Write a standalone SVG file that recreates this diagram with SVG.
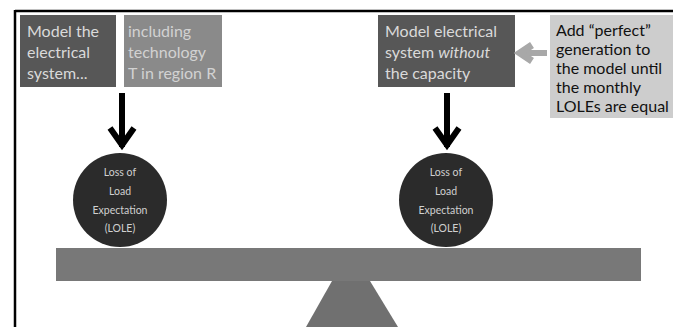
<svg xmlns="http://www.w3.org/2000/svg" width="673" height="327" viewBox="0 0 673 327">
<style>
  .t { font-family: Lato, "Open Sans", sans-serif; font-size: 16px; }
  .lt { fill: #dadada; }
  .mt { fill: #d2d2d2; }
  .dk { fill: #111111; }
  .ct { font-family: Lato, "Open Sans", sans-serif; font-size: 10.5px; fill: #d0d0d0; text-anchor: middle; }
  .arr { fill: none; stroke: #000; stroke-width: 6; }
</style>
<rect width="673" height="327" fill="#ffffff"/>
<g id="frame">
  <line x1="15" y1="11" x2="673" y2="11" stroke="#000" stroke-width="2.5"/>
  <line x1="15" y1="10" x2="15" y2="327" stroke="#000" stroke-width="2.5"/>
</g>
<g id="box-model">
  <rect x="20" y="15" width="96" height="72" fill="#575757"/>
  <text class="t lt"><tspan x="27" y="37">Model the</tspan><tspan x="27" y="58">electrical</tspan><tspan x="27" y="79">system...</tspan></text>
</g>
<g id="box-including">
  <rect x="124" y="15" width="98" height="72" fill="#8a8a8a"/>
  <text class="t mt"><tspan x="128" y="37">including</tspan><tspan x="128" y="58">technology</tspan><tspan x="128" y="79">T in region R</tspan></text>
</g>
<g id="box-without">
  <rect x="378" y="15" width="137" height="72" fill="#575757"/>
  <text class="t lt"><tspan x="385" y="37">Model electrical</tspan><tspan x="385" y="58">system <tspan font-style="italic">without</tspan></tspan><tspan x="385" y="79">the capacity</tspan></text>
</g>
<g id="box-perfect">
  <rect x="550" y="15" width="123" height="103" fill="#cdcdcd"/>
  <text class="t dk"><tspan x="556" y="36">Add “perfect”</tspan><tspan x="556" y="55">generation to</tspan><tspan x="556" y="74">the model until</tspan><tspan x="556" y="93">the monthly</tspan><tspan x="556" y="112">LOLEs are equal</tspan></text>
</g>
<g id="connectors">
  <path class="arr" d="M122 93 V147"/>
  <path class="arr" d="M110 128 L122 145 L134 128" stroke-width="7"/>
  <path class="arr" d="M447 93 V147"/>
  <path class="arr" d="M435 128 L447 145 L459 128" stroke-width="7"/>
  <path d="M547 53 H522" fill="none" stroke="#a8a8a8" stroke-width="6"/>
  <path d="M532 45 L520 53 L532 61" fill="none" stroke="#a8a8a8" stroke-width="7"/>
</g>
<g id="lole-left">
  <circle cx="120" cy="200" r="47" fill="#2b2b2b"/>
  <text class="ct"><tspan x="120" y="176">Loss of</tspan><tspan x="120" y="195">Load</tspan><tspan x="120" y="214">Expectation</tspan><tspan x="120" y="232">(LOLE)</tspan></text>
</g>
<g id="lole-right">
  <circle cx="446" cy="200" r="47" fill="#2b2b2b"/>
  <text class="ct"><tspan x="446" y="176">Loss of</tspan><tspan x="446" y="195">Load</tspan><tspan x="446" y="214">Expectation</tspan><tspan x="446" y="232">(LOLE)</tspan></text>
</g>
<g id="beam">
  <rect x="56" y="248" width="585" height="33" fill="#787878"/>
</g>
<g id="fulcrum">
  <polygon points="332,281 370,281 398,327 306,327" fill="#707070"/>
</g>
</svg>
